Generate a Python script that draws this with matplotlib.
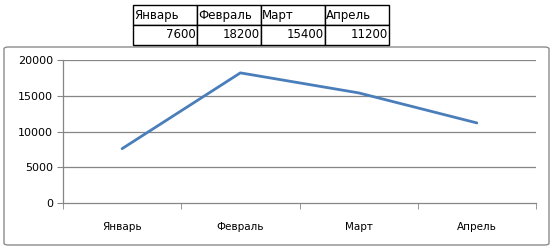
import matplotlib
matplotlib.use("Agg")
import matplotlib.pyplot as plt
from matplotlib.patches import FancyBboxPatch

months = ["Январь", "Февраль", "Март", "Апрель"]
values = [7600, 18200, 15400, 11200]
y_ticks = [0, 5000, 10000, 15000, 20000]

W, H = 555, 248
fig = plt.figure(figsize=(W / 100, H / 100), dpi=100)
fig.patch.set_facecolor("white")

# chart area frame
frame = FancyBboxPatch((4 / W, 3 / H), 545 / W, 198 / H,
                       boxstyle="round,pad=0,rounding_size=0.008",
                       transform=fig.transFigure, facecolor="none",
                       edgecolor="#8c8c8c", linewidth=1.0, zorder=-1)
fig.patches.append(frame)

# plot area
ax = fig.add_axes([63 / W, 45 / H, 473 / W, 143 / H])
ax.patch.set_alpha(0)
x = list(range(len(months)))
ax.plot(x, values, color="#4a7ebb", linewidth=2.0, solid_capstyle="round")
ax.set_xlim(-0.5, len(months) - 0.5)
ax.set_ylim(0, 20000)
ax.set_yticks(y_ticks)
ax.set_yticklabels([str(v) for v in y_ticks], fontsize=8)
ax.set_xticks(x)
ax.set_xticklabels(months, fontsize=7.5)
ax.set_xticks([i - 0.5 for i in range(len(months) + 1)], minor=True)
ax.tick_params(axis="x", which="major", length=0, pad=14, colors="#000000")
ax.tick_params(axis="x", which="minor", length=4, color="#868686", direction="out")
ax.tick_params(axis="y", length=4, color="#868686", direction="out", pad=3)
for yv in y_ticks[1:]:
    ax.axhline(yv, color="#868686", linewidth=0.9, zorder=0)
for s in ["top", "right"]:
    ax.spines[s].set_visible(False)
for s in ["left", "bottom"]:
    ax.spines[s].set_color("#868686")
    ax.spines[s].set_linewidth(0.9)

# data table above the chart
tax = fig.add_axes([133 / W, (H - 45) / H, 256 / W, 40 / H])
tax.axis("off")
tbl = tax.table(cellText=[months, [str(v) for v in values]],
                bbox=[0, 0, 1, 1], cellLoc="left")
tbl.auto_set_font_size(False)
for (r, c), cell in tbl.get_celld().items():
    cell.set_edgecolor("black")
    cell.set_linewidth(1.0)
    t = cell.get_text()
    t.set_fontsize(9)
    t.set_family("DejaVu Sans")
    t.set_fontsize(8.5)
    cell.PAD = 0.02
    if r == 1:
        t.set_ha("right")
        cell._loc = "right"

fig.savefig("out.png", dpi=100)
